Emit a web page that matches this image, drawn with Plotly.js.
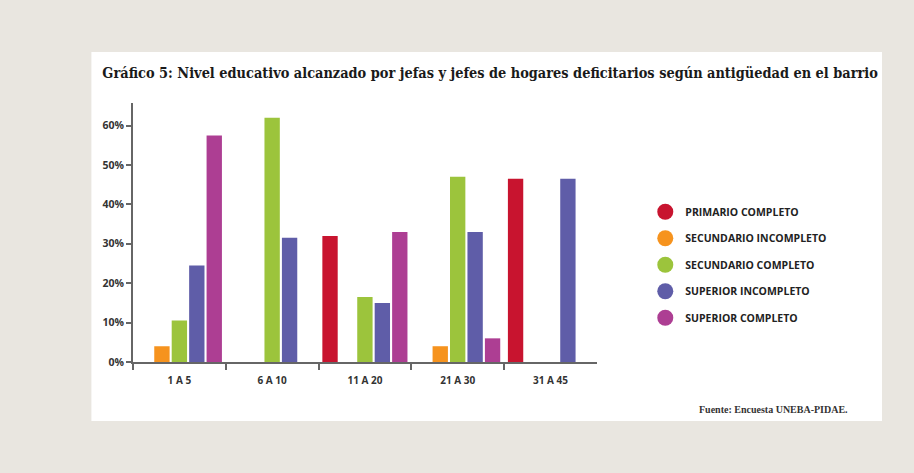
<!DOCTYPE html>
<html><head><meta charset="utf-8">
<script src="https://cdn.plot.ly/plotly-3.0.1.min.js"></script>
<style>html,body{margin:0;padding:0;background:#e9e6e0;}#chart{width:914px;height:473px;}</style>
</head><body><div id="chart"></div>
<script>
const categories = ["1 A 5", "6 A 10", "11 A 20", "21 A 30", "31 A 45"];
const seriesNames = ["PRIMARIO COMPLETO", "SECUNDARIO INCOMPLETO", "SECUNDARIO COMPLETO", "SUPERIOR INCOMPLETO", "SUPERIOR COMPLETO"];
const primarioCompleto     = [null, null, 32, null, 46.5];
const secundarioIncompleto = [4, null, null, 4, null];
const secundarioCompleto   = [10.5, 62, 16.5, 47, null];
const superiorIncompleto   = [24.5, 31.5, 15, 33, 46.5];
const superiorCompleto     = [57.5, null, 33, 6, null];
const yTickVals = [0, 10, 20, 30, 40, 50, 60];
const yTickText = ["0%", "10%", "20%", "30%", "40%", "50%", "60%"];
const colors = ["#c8142f", "#f6931e", "#9cc43c", "#5f5da8", "#ad3e93"];

const values = [primarioCompleto, secundarioIncompleto, secundarioCompleto, superiorIncompleto, superiorCompleto];
const traces = [];
values.forEach((v, i) => {
  traces.push({type: "bar", x: categories, y: v, name: seriesNames[i],
    marker: {color: colors[i]}, showlegend: false, hoverinfo: "none"});
});
seriesNames.forEach((n, i) => {
  traces.push({type: "scatter", mode: "markers", x: [null], y: [null], name: n,
    legendgroup: "g" + i, marker: {color: colors[i], size: 16, symbol: "circle"}, showlegend: true});
});

const layout = {
  width: 914, height: 473,
  paper_bgcolor: "#e9e6e0", plot_bgcolor: "rgba(0,0,0,0)",
  margin: {l: 0, r: 0, t: 0, b: 0},
  barmode: "group", bargap: 0.06, bargroupgap: 0.12,
  title: {text: "Gráfico 5: Nivel educativo alcanzado por jefas y jefes de hogares deficitarios según antigüedad en el barrio",
    font: {family: "DejaVu Serif Condensed", size: 14.4, color: "#1a1a1a", weight: "bold"},
    x: 0.112, xanchor: "left", y: 0.845, yanchor: "middle"},
  xaxis: {domain: [0.1455, 0.653], showline: true, linecolor: "#666", linewidth: 2,
    ticks: "outside", tickson: "boundaries", ticklen: 6, tickcolor: "#666", tickwidth: 2,
    ticklabelstandoff: 8,
    tickfont: {family: "Open Sans", size: 10, color: "#333", weight: "bold"},
    showgrid: false, zeroline: false, fixedrange: true},
  yaxis: {domain: [0.2347, 0.782], range: [0, 65.7], showline: true, linecolor: "#666", linewidth: 2,
    tickvals: yTickVals, ticktext: yTickText, ticks: "outside", ticklen: 5, tickcolor: "#666", tickwidth: 2,
    tickfont: {family: "Open Sans", size: 10.5, color: "#333", weight: "bold"},
    showgrid: false, zeroline: false, fixedrange: true},
  legend: {x: 0.706, xanchor: "left", y: 0.583, yanchor: "top", bgcolor: "rgba(0,0,0,0)",
    traceorder: "grouped", tracegroupgap: 7.5, itemwidth: 30,
    font: {family: "Open Sans", size: 10.5, color: "#222", weight: "bold"}},
  shapes: [
    {type: "rect", xref: "paper", yref: "paper", x0: 0.1, x1: 0.965, y0: 0.11, y1: 0.89,
      fillcolor: "#ffffff", line: {width: 0}, layer: "below"}
  ],
  annotations: [
    {text: "Fuente: Encuesta UNEBA-PIDAE.", xref: "paper", yref: "paper", x: 0.93, y: 0.135,
      xanchor: "right", yanchor: "middle", showarrow: false,
      font: {family: "Liberation Serif", size: 10, color: "#333", weight: "bold"}}
  ]
};
Plotly.newPlot("chart", traces, layout, {displayModeBar: false, staticPlot: true});
</script></body></html>
